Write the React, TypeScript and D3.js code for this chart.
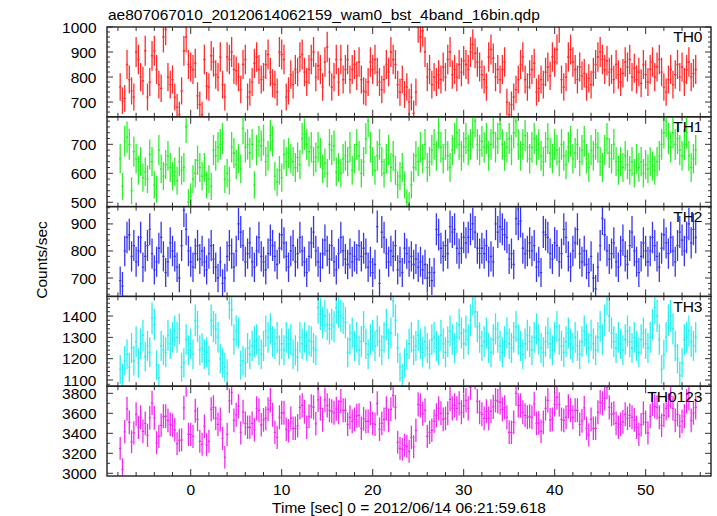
import React from "react";
import * as d3 from "d3";

// ---- data (counts/sec, 0.25 s bins starting at t = -7.75 s) ----
const TIME_START = -7.75;
const BIN_WIDTH = 0.25;

const TH0 = [
  760, 705, 715, 850,
  790, 745, 720, 900,
  870, 800, 785, 905,
  720, 780, 885, 905,
  830, 770, 755, 960,
  990, 800, 770, 790,
  720, 680, 650, 745,
  905, 960, 850, 840,
  830, 855, 725, 690,
  650, 870, 765, 760,
  885, 860, 810, 800,
  880, 770, 720, 880,
  870, 900, 830, 825,
  800, 750, 850, 870,
  720, 740, 780, 855,
  880, 830, 790, 800,
  850, 890, 820, 775,
  770, 740, 900, 890,
  870, 720, 745, 810,
  770, 830, 820, 880,
  890, 820, 780, 830,
  870, 900, 800, 845,
  830, 760, 860, 920,
  820, 760, 800, 870,
  780, 870, 790, 830,
  870, 790, 830, 850,
  805, 860, 790, 745,
  740, 780, 860, 830,
  870, 820, 780, 750,
  790, 850, 820, 900,
  870, 850, 770, 740,
  790, 730, 760, 700,
  720, 655, 740, 1000,
  960, 985, 900, 800,
  830, 770, 800, 780,
  810, 790, 840, 800,
  870, 900, 810, 830,
  800, 850, 820, 865,
  850, 830, 900, 930,
  895, 860, 840, 810,
  790, 760, 880, 910,
  875, 800, 830, 790,
  830, 860, 700, 650,
  690, 720, 750, 790,
  850, 880, 790, 760,
  810, 830, 855, 740,
  755, 790, 770, 820,
  840, 805, 880, 860,
  910, 1000, 790, 760,
  800, 880, 910, 860,
  830, 790, 840, 805,
  815, 760, 795, 770,
  820, 850, 880, 900,
  870, 830, 865, 820,
  830, 790, 850, 810,
  780, 815, 860, 840,
  870, 800, 835, 790,
  820, 775, 850, 810,
  780, 830, 860, 800,
  840, 870, 820, 760,
  740, 790, 830, 770,
  810, 850, 800, 840,
  780, 830, 860, 800,
  815, 830,
];

const TH1 = [
  650, 555, 710, 725,
  700, 540, 675, 650,
  610, 640, 585, 605,
  580, 665, 640, 560,
  545, 680, 615, 590,
  630, 660, 620, 590,
  605, 575, 640, 610,
  620, 760, 500, 520,
  580, 600, 645, 620,
  590, 620, 560, 580,
  555, 680, 660, 690,
  700, 720, 580, 600,
  575, 690, 670, 630,
  650, 615, 755, 690,
  700, 670, 700, 560,
  680, 710, 695, 715,
  640, 660, 730, 710,
  590, 570, 610, 585,
  665, 640, 670, 650,
  640, 620, 655, 630,
  720, 735, 700, 675,
  690, 640, 655, 690,
  670, 615, 635, 600,
  700, 680, 695, 605,
  620, 600, 650, 660,
  640, 690, 610, 650,
  700, 660, 600, 640,
  720, 780, 690, 640,
  610, 660, 700, 640,
  600, 650, 680, 620,
  660, 610, 560, 590,
  620, 560, 500, 490,
  560, 620, 660, 640,
  690, 650, 700, 620,
  640, 680, 700, 660,
  740, 690, 650, 700,
  660, 620, 680, 720,
  740, 700, 660, 690,
  720, 680, 700, 740,
  780, 700, 680, 710,
  690, 720, 660, 700,
  740, 690, 720, 770,
  700, 660, 690, 720,
  680, 740, 780, 700,
  660, 700, 730, 690,
  650, 690, 720, 680,
  700, 660, 640, 690,
  720, 670, 650, 700,
  680, 640, 700, 660,
  630, 690, 710, 650,
  670, 700, 640, 680,
  710, 650, 620, 680,
  660, 700, 690, 640,
  620, 680, 720, 670,
  650, 700, 640, 610,
  640, 620, 660, 630,
  610, 640, 600, 650,
  620, 640, 600, 630,
  615, 640, 625, 610,
  640, 660, 700, 740,
  780, 720, 690, 740,
  700, 720, 680, 660,
  700, 740, 660, 620,
  650, 680,
];

const TH2 = [
  690, 670, 800, 850,
  860, 780, 820, 760,
  800, 850, 740, 780,
  820, 880, 790, 730,
  760, 810, 850, 780,
  720, 760, 830, 800,
  780, 740, 700, 820,
  950, 880, 800, 760,
  740, 790, 820, 770,
  800, 760, 730, 790,
  820, 770, 740, 700,
  760, 680, 700, 780,
  820, 790, 740, 800,
  900, 870, 820, 760,
  790, 830, 760, 740,
  800, 850, 780, 760,
  730, 790, 840, 820,
  780, 750, 810, 860,
  830, 780, 740, 800,
  820, 760, 790, 850,
  800, 760, 720, 780,
  830, 870, 800, 760,
  740, 790, 840, 800,
  770, 820, 760, 730,
  790, 850, 800, 770,
  750, 790, 760, 780,
  770, 820, 780, 810,
  790, 740, 760, 720,
  750, 890, 680, 870,
  850, 790, 760, 800,
  780, 820, 730, 760,
  720, 810, 790, 760,
  780, 750, 770, 740,
  760, 730, 750, 700,
  720, 690, 720, 880,
  860, 810, 780, 820,
  790, 890, 870, 880,
  810, 790, 810, 850,
  830, 850, 880, 900,
  870, 810, 790, 810,
  790, 820, 760, 780,
  760, 900, 870, 890,
  880, 860, 850, 770,
  790, 750, 920, 900,
  910, 810, 790, 800,
  830, 800, 820, 740,
  760, 720, 870, 860,
  850, 790, 770, 830,
  820, 760, 790, 880,
  850, 780, 740, 800,
  830, 880, 790, 760,
  800, 750, 720, 780,
  700, 660, 740, 820,
  920, 860, 800, 770,
  790, 830, 760, 740,
  800, 840, 780, 750,
  820, 870, 800, 760,
  720, 780, 830, 800,
  760, 800, 850, 820,
  780, 740, 810, 860,
  830, 790, 850, 800,
  760, 820, 870, 840,
  800, 850, 900, 830,
  880, 850,
];

const TH3 = [
  1150, 1110, 1190, 1220,
  1160, 1250, 1190, 1280,
  1180, 1270, 1310, 1210,
  1260, 1230, 1390, 1360,
  1170, 1110, 1260, 1240,
  1230, 1310, 1270, 1300,
  1330, 1300, 1340, 1160,
  1180, 1290, 1240, 1270,
  1220, 1380, 1350, 1240,
  1250, 1220, 1230, 1190,
  1380, 1350, 1340, 1300,
  1200, 1180, 1160, 1130,
  1460, 1430, 1290, 1330,
  1320, 1170, 1190, 1180,
  1250, 1220, 1260, 1280,
  1290, 1240, 1220, 1260,
  1330, 1300, 1340, 1280,
  1270, 1300, 1240, 1270,
  1240, 1300, 1270, 1290,
  1220, 1240, 1210, 1300,
  1270, 1300, 1260, 1285,
  1280, 1250, 1240, 1440,
  1410, 1370, 1400, 1360,
  1340, 1360, 1350, 1440,
  1420, 1400, 1390, 1370,
  1230, 1290, 1320, 1260,
  1300, 1240, 1280, 1350,
  1270, 1220, 1290, 1310,
  1260, 1330, 1280, 1240,
  1300, 1360, 1270, 1320,
  1470, 1380, 1250, 1160,
  1110, 1180, 1220, 1270,
  1300, 1240, 1260, 1310,
  1270, 1230, 1280, 1250,
  1220, 1290, 1300, 1260,
  1240, 1310, 1270, 1230,
  1280, 1330, 1290, 1250,
  1300, 1360, 1320, 1270,
  1330, 1290, 1380, 1480,
  1420, 1350, 1300, 1260,
  1280, 1320, 1250, 1230,
  1290, 1340, 1300, 1260,
  1230, 1280, 1320, 1270,
  1250, 1300, 1350, 1290,
  1260, 1220, 1270, 1310,
  1280, 1240, 1300, 1340,
  1290, 1250, 1230, 1280,
  1320, 1270, 1240, 1300,
  1350, 1290, 1260, 1230,
  1280, 1320, 1270, 1250,
  1300, 1260, 1220, 1280,
  1330, 1290, 1250, 1310,
  1270, 1240, 1300, 1350,
  1290, 1380, 1480, 1400,
  1320, 1280, 1250, 1300,
  1270, 1240, 1290, 1330,
  1280, 1250, 1300, 1260,
  1230, 1290, 1320, 1270,
  1250, 1300, 1360, 1440,
  1400, 1290, 1150, 1220,
  1300, 1380, 1400, 1340,
  1260, 1200, 1120, 1180,
  1290, 1300, 1330, 1280,
  1260, 1300,
];

// TH0123 is the sum of the four bands
const N_BINS = Math.min(TH0.length, TH1.length, TH2.length, TH3.length);
const TH0123 = d3.range(N_BINS).map((i) => TH0[i] + TH1[i] + TH2[i] + TH3[i]);

const PANEL_LABELS = ["TH0", "TH1", "TH2", "TH3", "TH0123"];
const PANEL_COLORS = ["#ff2b2b", "#2bef2b", "#3535f0", "#2befef", "#f02bf0"];
const Y_DOMAINS: [number, number][] = [
  [641, 1000],
  [485, 795],
  [632, 964],
  [1071, 1492],
  [2973, 3871],
];
const Y_MAJOR_TICKS = [
  [700, 800, 900, 1000],
  [500, 600, 700],
  [700, 800, 900],
  [1100, 1200, 1300, 1400],
  [3000, 3200, 3400, 3600, 3800],
];
const Y_MINOR_STEPS = [20, 20, 20, 20, 100];
const X_DOMAIN: [number, number] = [-9.2, 57.18];
const X_MAJOR_TICKS = [0, 10, 20, 30, 40, 50];
const X_MINOR_STEP = 2;

const TITLE = "ae807067010_20120614062159_wam0_bst_4band_16bin.qdp";
const X_LABEL = "Time [sec] 0 = 2012/06/14 06:21:59.618";
const Y_LABEL = "Counts/sec";

// ---- layout ----
const W = 717;
const H = 516;
const LEFT = 107;
const RIGHT = 711;
const TOP = 27;
const BOTTOM = 476;
const FONT = "'Liberation Sans', Arial, Helvetica, sans-serif";
const FS = 15.5;

export default function App() {
  const series = [TH0, TH1, TH2, TH3, TH0123];
  const panelH = (BOTTOM - TOP) / series.length;
  const x = d3.scaleLinear().domain(X_DOMAIN).range([LEFT, RIGHT]);
  const xMinor = d3.range(-8, X_DOMAIN[1], X_MINOR_STEP);

  const panels = series.map((vals, k) => {
    const top = TOP + k * panelH;
    const bottom = top + panelH;
    const [d0, d1] = Y_DOMAINS[k];
    const y = d3.scaleLinear().domain([d0, d1]).range([bottom, top]);
    const p = d3.path();
    vals.slice(0, N_BINS).forEach((v, i) => {
      const t = TIME_START + i * BIN_WIDTH;
      const e = 2 * Math.sqrt(v);
      const xc = x(t);
      p.moveTo(xc, y(v - e));
      p.lineTo(xc, y(v + e));
      p.moveTo(x(t - BIN_WIDTH / 2), y(v));
      p.lineTo(x(t + BIN_WIDTH / 2), y(v));
    });
    const step = Y_MINOR_STEPS[k];
    const yMinor = d3.range(Math.ceil(d0 / step) * step, d1, step);
    const majors = Y_MAJOR_TICKS[k];
    const tickPath = d3.path();
    yMinor.forEach((v) => {
      const isMajor = majors.includes(v);
      const len = isMajor ? 6 : 3;
      const yy = y(v);
      tickPath.moveTo(LEFT, yy);
      tickPath.lineTo(LEFT + len, yy);
      tickPath.moveTo(RIGHT, yy);
      tickPath.lineTo(RIGHT - len, yy);
    });
    majors.forEach((v) => {
      if (!yMinor.includes(v)) {
        const yy = y(v);
        tickPath.moveTo(LEFT, yy);
        tickPath.lineTo(LEFT + 6, yy);
        tickPath.moveTo(RIGHT, yy);
        tickPath.lineTo(RIGHT - 6, yy);
      }
    });
    xMinor.forEach((t) => {
      const len = X_MAJOR_TICKS.includes(t) ? 7 : 4;
      const xx = x(t);
      tickPath.moveTo(xx, top);
      tickPath.lineTo(xx, top + len);
      tickPath.moveTo(xx, bottom);
      tickPath.lineTo(xx, bottom - len);
    });
    return { k, top, bottom, y, d: p.toString(), ticks: tickPath.toString(), majors };
  });

  return (
    <div style={{ position: "absolute", left: 0, top: 0 }}>
      <svg width={W} height={H} style={{ display: "block", background: "#fff" }} fontFamily={FONT}>
        <defs>
          {panels.map((pp) => (
            <clipPath id={`clip${pp.k}`} key={pp.k}>
              <rect x={LEFT} y={pp.top} width={RIGHT - LEFT} height={pp.bottom - pp.top} />
            </clipPath>
          ))}
        </defs>
        <rect x={0} y={0} width={W} height={H} fill="#fff" />
        <text x={108} y={19.5} fontSize={FS} fill="#000">
          {TITLE}
        </text>
        {panels.map((pp) => (
          <g key={pp.k}>
            <path d={pp.d} stroke={PANEL_COLORS[pp.k]} strokeWidth={1.3} fill="none" clipPath={`url(#clip${pp.k})`} />
            <path d={pp.ticks} stroke="#333" strokeWidth={1} fill="none" />
            <rect
              x={LEFT}
              y={pp.top}
              width={RIGHT - LEFT}
              height={pp.bottom - pp.top}
              fill="none"
              stroke="#222"
              strokeWidth={1.4}
            />
            {pp.majors.map((v) => (
              <text key={v} x={96.5} y={pp.y(v) + 5.5} fontSize={FS} textAnchor="end" fill="#000">
                {v}
              </text>
            ))}
            <text x={702.5} y={pp.top + 15.3} fontSize={FS} textAnchor="end" fill="#000">
              {PANEL_LABELS[pp.k]}
            </text>
          </g>
        ))}
        {X_MAJOR_TICKS.map((t) => (
          <text key={t} x={x(t)} y={495} fontSize={FS} textAnchor="middle" fill="#000">
            {t}
          </text>
        ))}
        <text x={(LEFT + RIGHT) / 2} y={512.5} fontSize={FS} textAnchor="middle" fill="#000">
          {X_LABEL}
        </text>
        <text transform={`translate(47,260) rotate(-90)`} fontSize={FS} textAnchor="middle" fill="#000">
          {Y_LABEL}
        </text>
      </svg>
    </div>
  );
}
